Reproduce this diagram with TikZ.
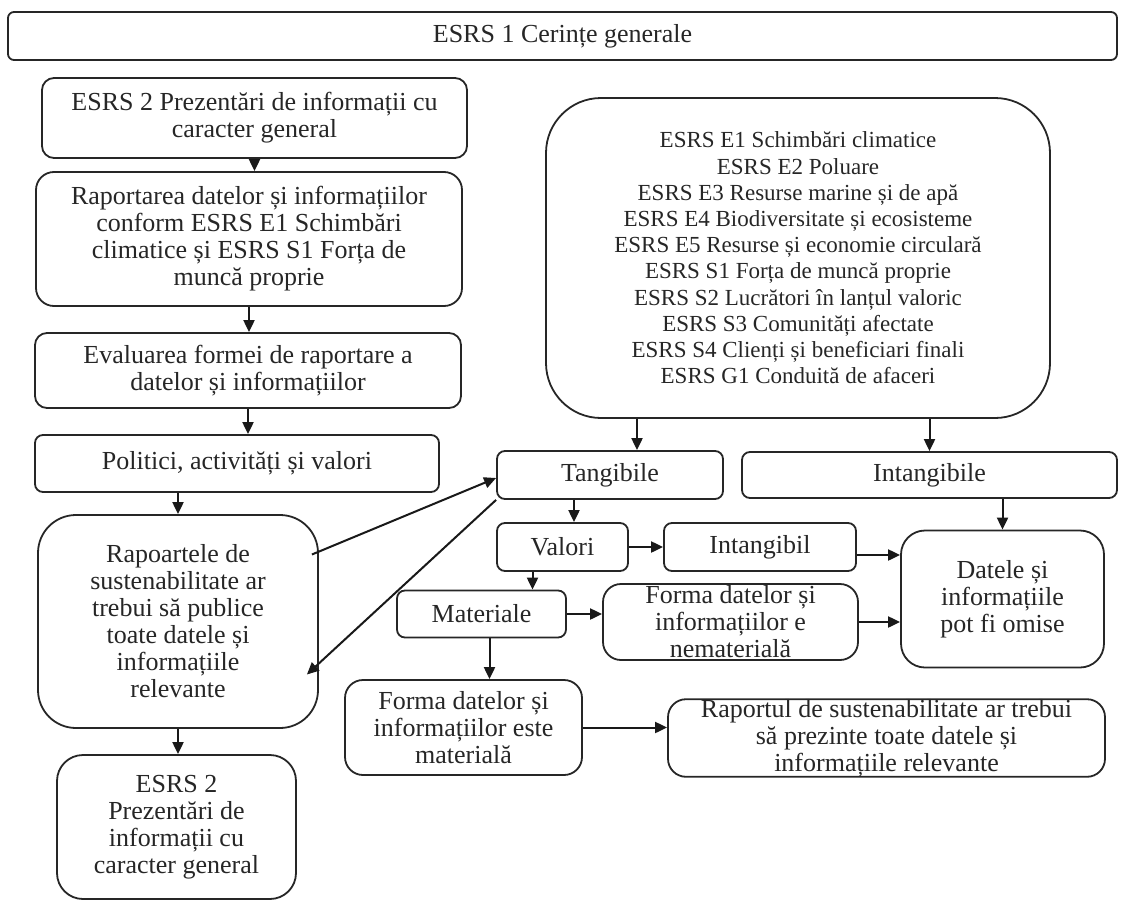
\documentclass[tikz,border=0pt]{standalone}
\usepackage{fontspec}
\setmainfont{Liberation Serif}
\usetikzlibrary{arrows.meta}
\tikzset{
  box/.style={draw=black!85, line width=1.8pt, align=center, inner sep=0pt,
    text=black!85, font=\fontsize{26}{27}\selectfont},
  link/.style={->, line width=2pt, black!90},
}
\begin{document}
\begin{tikzpicture}[x=1pt,y=-1pt,>={Triangle[length=12pt,width=11pt]}]
\useasboundingbox (0,0) rectangle (1124,902);
% left column
\node[box, rounded corners=6pt, minimum width=1109pt, minimum height=48pt] (esrs1) at (562.5,36) {ESRS 1 Cerințe generale};
\node[box, rounded corners=12pt, minimum width=425pt, minimum height=80pt] (prez) at (254.5,118) {ESRS 2 Prezentări de informații cu\\caracter general};
\node[box, rounded corners=18pt, minimum width=426pt, minimum height=134pt] (rap) at (249,239) {Raportarea datelor și informațiilor\\conform ESRS E1 Schimbări\\climatice și ESRS S1 Forța de\\muncă proprie};
\node[box, rounded corners=12pt, minimum width=426pt, minimum height=75pt] (eval) at (248,370.5) {Evaluarea formei de raportare a\\datelor și informațiilor};
\node[box, rounded corners=8pt, minimum width=404pt, minimum height=57pt] (pol) at (237,463.5) {Politici, activități și valori};
\node[box, rounded corners=38pt, minimum width=280pt, minimum height=213pt] (publ) at (178,621.5) {Rapoartele de\\sustenabilitate ar\\trebui să publice\\toate datele și\\informațiile\\relevante};
\node[box, rounded corners=26pt, minimum width=239pt, minimum height=144pt] (prezb) at (176.5,827) {ESRS 2\\Prezentări de\\informații cu\\caracter general};
% right part
\node[box, rounded corners=55pt, minimum width=504pt, minimum height=320pt, font=\fontsize{23}{26.2}\selectfont] (stds) at (798,258) {ESRS E1 Schimbări climatice\\ESRS E2 Poluare\\ESRS E3 Resurse marine și de apă\\ESRS E4 Biodiversitate și ecosisteme\\ESRS E5 Resurse și economie circulară\\ESRS S1 Forța de muncă proprie\\ESRS S2 Lucrători în lanțul valoric\\ESRS S3 Comunități afectate\\ESRS S4 Clienți și beneficiari finali\\ESRS G1 Conduită de afaceri};
\node[box, rounded corners=8pt, minimum width=226pt, minimum height=48pt] (tang) at (610,475) {Tangibile};
\node[box, rounded corners=8pt, minimum width=375pt, minimum height=46pt] (intang) at (929.5,475) {Intangibile};
\node[box, rounded corners=8pt, minimum width=131pt, minimum height=48pt] (val) at (562.5,547) {Valori};
\node[box, rounded corners=8pt, minimum width=192pt, minimum height=48pt] (intb) at (760,547) {Intangibil};
\node[box, rounded corners=24pt, minimum width=203pt, minimum height=137pt] (omis) at (1002.5,599) {Datele și\\informațiile\\pot fi omise};
\node[box, rounded corners=8pt, minimum width=169pt, minimum height=47pt] (mat) at (481.5,614) {Materiale};
\node[box, rounded corners=18pt, minimum width=255pt, minimum height=76pt] (nemat) at (730.5,622) {Forma datelor și\\informațiilor e\\nematerială};
\node[box, rounded corners=18pt, minimum width=237pt, minimum height=95pt] (matl) at (463.5,727.5) {Forma datelor și\\informațiilor este\\materială};
\node[box, rounded corners=18pt, minimum width=437pt, minimum height=76pt] (raport) at (886.5,738) {Raportul de sustenabilitate ar trebui\\să prezinte toate datele și\\informațiile relevante};
% connectors
\draw[link] (prez.south) -- (prez.south |- rap.north);
\draw[link] (rap.south) -- (rap.south |- eval.north);
\draw[link] (eval.south) -- (eval.south |- pol.north);
\draw[link] (publ.north |- pol.south) -- (publ.north);
\draw[link] (publ.south) -- (publ.south |- prezb.north);
\draw[link] ([xshift=27pt]tang.north |- stds.south) -- ([xshift=27pt]tang.north);
\draw[link] (intang.north |- stds.south) -- (intang.north);
\draw[link] ([xshift=-36pt]tang.south) -- ([xshift=-36pt]tang.south |- val.north);
\draw[link] (val.east) -- (intb.west);
\draw[link] ([yshift=-8pt]intb.east) -- ([yshift=-8pt]intb.east -| omis.west);
\draw[link] (omis.north |- intang.south) -- (omis.north);
\draw[link] ([xshift=-30pt]val.south) -- ([xshift=-30pt]val.south |- mat.north);
\draw[link] (mat.east) -- (mat.east -| nemat.west);
\draw[link] (nemat.east) -- (nemat.east -| omis.west);
\draw[link] ([xshift=8pt]mat.south) -- ([xshift=8pt]mat.south |- matl.north);
\draw[link] (matl.east) -- (matl.east -| raport.west);
\draw[link] ([xshift=-7pt,yshift=67pt]publ.east) -- ([yshift=-3pt]tang.west);
\draw[link] (tang.south west) -- ([xshift=-12pt,yshift=-53pt]publ.east);
\end{tikzpicture}
\end{document}
